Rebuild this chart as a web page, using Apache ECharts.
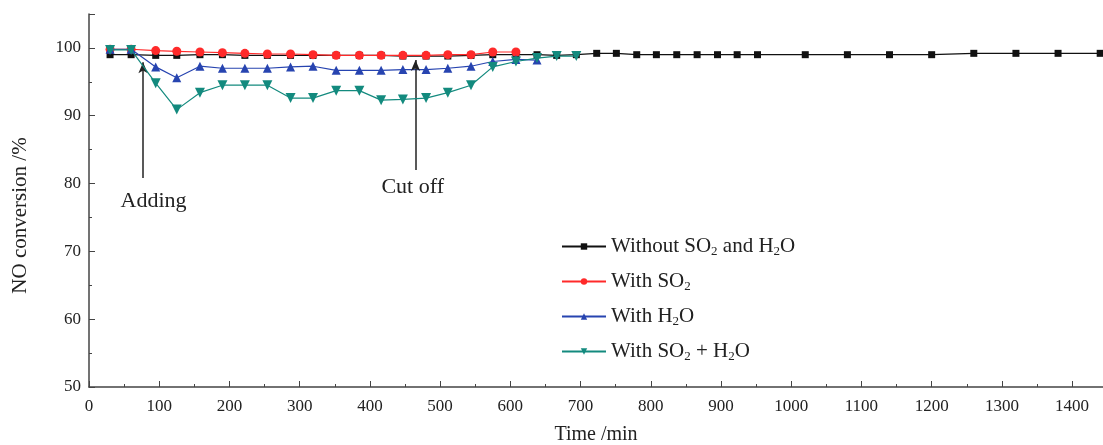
<!DOCTYPE html>
<html><head><meta charset="utf-8">
<script src="https://cdn.jsdelivr.net/npm/echarts@6/dist/echarts.min.js"></script>
<style>html,body{margin:0;padding:0;background:#fff}#c{width:1103px;height:445px}</style>
</head><body><div id="c"></div>
<script>
const seriesNames = ['Without SO2 and H2O', 'With SO2', 'With H2O', 'With SO2 + H2O'];
const times = [30, 60, 95, 125, 158, 190, 222, 254, 287, 319, 352, 385, 416, 447, 480, 511, 544, 575, 608, 638, 666, 694, 723, 751, 780, 808, 837, 866, 895, 923, 952, 1020, 1080, 1140, 1200, 1260, 1320, 1380, 1440];
const without = [99.0, 99.0, 98.9, 98.9, 99.0, 99.0, 98.9, 98.9, 98.9, 98.9, 98.9, 98.9, 98.9, 98.8, 98.8, 98.8, 98.9, 99.0, 99.0, 99.0, 98.9, 99.0, 99.2, 99.2, 99.0, 99.0, 99.0, 99.0, 99.0, 99.0, 99.0, 99.0, 99.0, 99.0, 99.0, 99.2, 99.2, 99.2, 99.2];
const withSO2 = [99.8, 99.8, 99.6, 99.5, 99.4, 99.3, 99.2, 99.1, 99.1, 99.0, 98.9, 98.9, 98.9, 98.9, 98.9, 99.0, 99.0, 99.4, 99.4];
const withH2O = [99.8, 99.8, 97.2, 95.6, 97.3, 97.0, 97.0, 97.0, 97.2, 97.3, 96.7, 96.7, 96.7, 96.8, 96.8, 97.0, 97.3, 98.0, 98.3, 98.2];
const withBoth = [99.7, 99.7, 94.8, 90.9, 93.4, 94.5, 94.5, 94.5, 92.6, 92.6, 93.7, 93.7, 92.3, 92.4, 92.6, 93.4, 94.5, 97.2, 98.0, 98.5, 98.8, 98.8];
const annotations = [
  {text: 'Adding', arrowX: 77, arrowTop: 97.9, arrowBottom: 80.8, textX: 92, textY: 77.4},
  {text: 'Cut off', arrowX: 465, arrowTop: 98.2, arrowBottom: 82, textX: 461, textY: 79.4}
];

const pairs = vals => vals.map((v, i) => [times[i], v]);
const FONT = 'Liberation Serif';
const styles = [
  {color: '#111111', symbol: 'rect', size: 7, rot: 0},
  {color: '#ff2a2a', symbol: 'circle', size: 9, rot: 0},
  {color: '#2744b0', symbol: 'triangle', size: 9, rot: 0},
  {color: '#138a7e', symbol: 'triangle', size: 10, rot: 180}
];
const datasets = [without, withSO2, withH2O, withBoth];
const series = datasets.map((d, i) => ({
  name: seriesNames[i], type: 'line', data: pairs(d),
  symbol: styles[i].symbol, symbolSize: styles[i].size, symbolRotate: styles[i].rot,
  showAllSymbol: true, clip: false,
  itemStyle: {color: styles[i].color},
  lineStyle: {color: styles[i].color, width: 1.2},
  emphasis: {disabled: true}, z: 2 + i
}));
series.push({
  type: 'line', data: [], silent: true, z: 10,
  markLine: {
    silent: true, symbol: ['none', 'arrow'], symbolSize: [7, 11],
    lineStyle: {color: '#222', width: 1.5, type: 'solid'},
    label: {show: false},
    data: annotations.map(a => [{coord: [a.arrowX, a.arrowBottom]}, {coord: [a.arrowX, a.arrowTop]}])
  },
  markPoint: {
    silent: true, symbol: 'rect', symbolSize: 1, itemStyle: {color: 'rgba(0,0,0,0)'},
    label: {show: true, position: 'inside', color: '#222', fontFamily: FONT, fontSize: 22},
    data: annotations.map(a => ({coord: [a.textX, a.textY], label: {formatter: a.text}}))
  }
});

const richTxt = {
  n: {fontFamily: FONT, fontSize: 21, color: '#222'},
  s: {fontFamily: FONT, fontSize: 13, color: '#222', verticalAlign: 'bottom', padding: [10, 0, 0, 0]}
};
const legendFmt = name => name.replace(/([^2]+)/g, '{n|$1}').replace(/2/g, '{s|2}');

const chart = echarts.init(document.getElementById('c'), null, {renderer: 'canvas'});
chart.setOption({
  animation: false,
  grid: {left: 89, right: 0, top: 14, bottom: 58, containLabel: false, outerBoundsMode: 'none'},
  legend: {
    data: seriesNames, orient: 'vertical', left: 556, top: 231,
    itemWidth: 44, itemHeight: 8, itemGap: 13,
    formatter: legendFmt,
    textStyle: {fontFamily: FONT, fontSize: 21, color: '#222', rich: richTxt}
  },
  xAxis: {
    type: 'value', min: 0, max: 1444, interval: 100,
    name: 'Time /min', nameLocation: 'middle', nameGap: 38,
    nameTextStyle: {fontFamily: FONT, fontSize: 20, color: '#222'},
    axisLine: {show: true, lineStyle: {color: '#444', width: 1.5}},
    axisTick: {show: true, inside: true, length: 6, lineStyle: {color: '#444'}},
    minorTick: {show: true, splitNumber: 2, length: 3, lineStyle: {color: '#444'}},
    splitLine: {show: false},
    axisLabel: {fontFamily: FONT, fontSize: 17, color: '#222', margin: 11, showMaxLabel: false,
      formatter: v => (v % 100 === 0 ? String(v) : '')}
  },
  yAxis: {
    type: 'value', min: 50, max: 105, interval: 10,
    name: 'NO conversion /%', nameLocation: 'middle', nameGap: 58, nameRotate: 90,
    nameTextStyle: {fontFamily: FONT, fontSize: 21, color: '#222', padding: [0, 30, 0, 0]},
    axisLine: {show: true, lineStyle: {color: '#444', width: 1.5}},
    axisTick: {show: true, inside: true, length: 6, lineStyle: {color: '#444'}},
    minorTick: {show: true, splitNumber: 2, length: 3, lineStyle: {color: '#444'}},
    splitLine: {show: false},
    axisLabel: {fontFamily: FONT, fontSize: 17, color: '#222', margin: 8, showMaxLabel: false,
      formatter: v => (v % 10 === 0 ? String(v) : '')}
  },
  series: series
});
</script></body></html>
